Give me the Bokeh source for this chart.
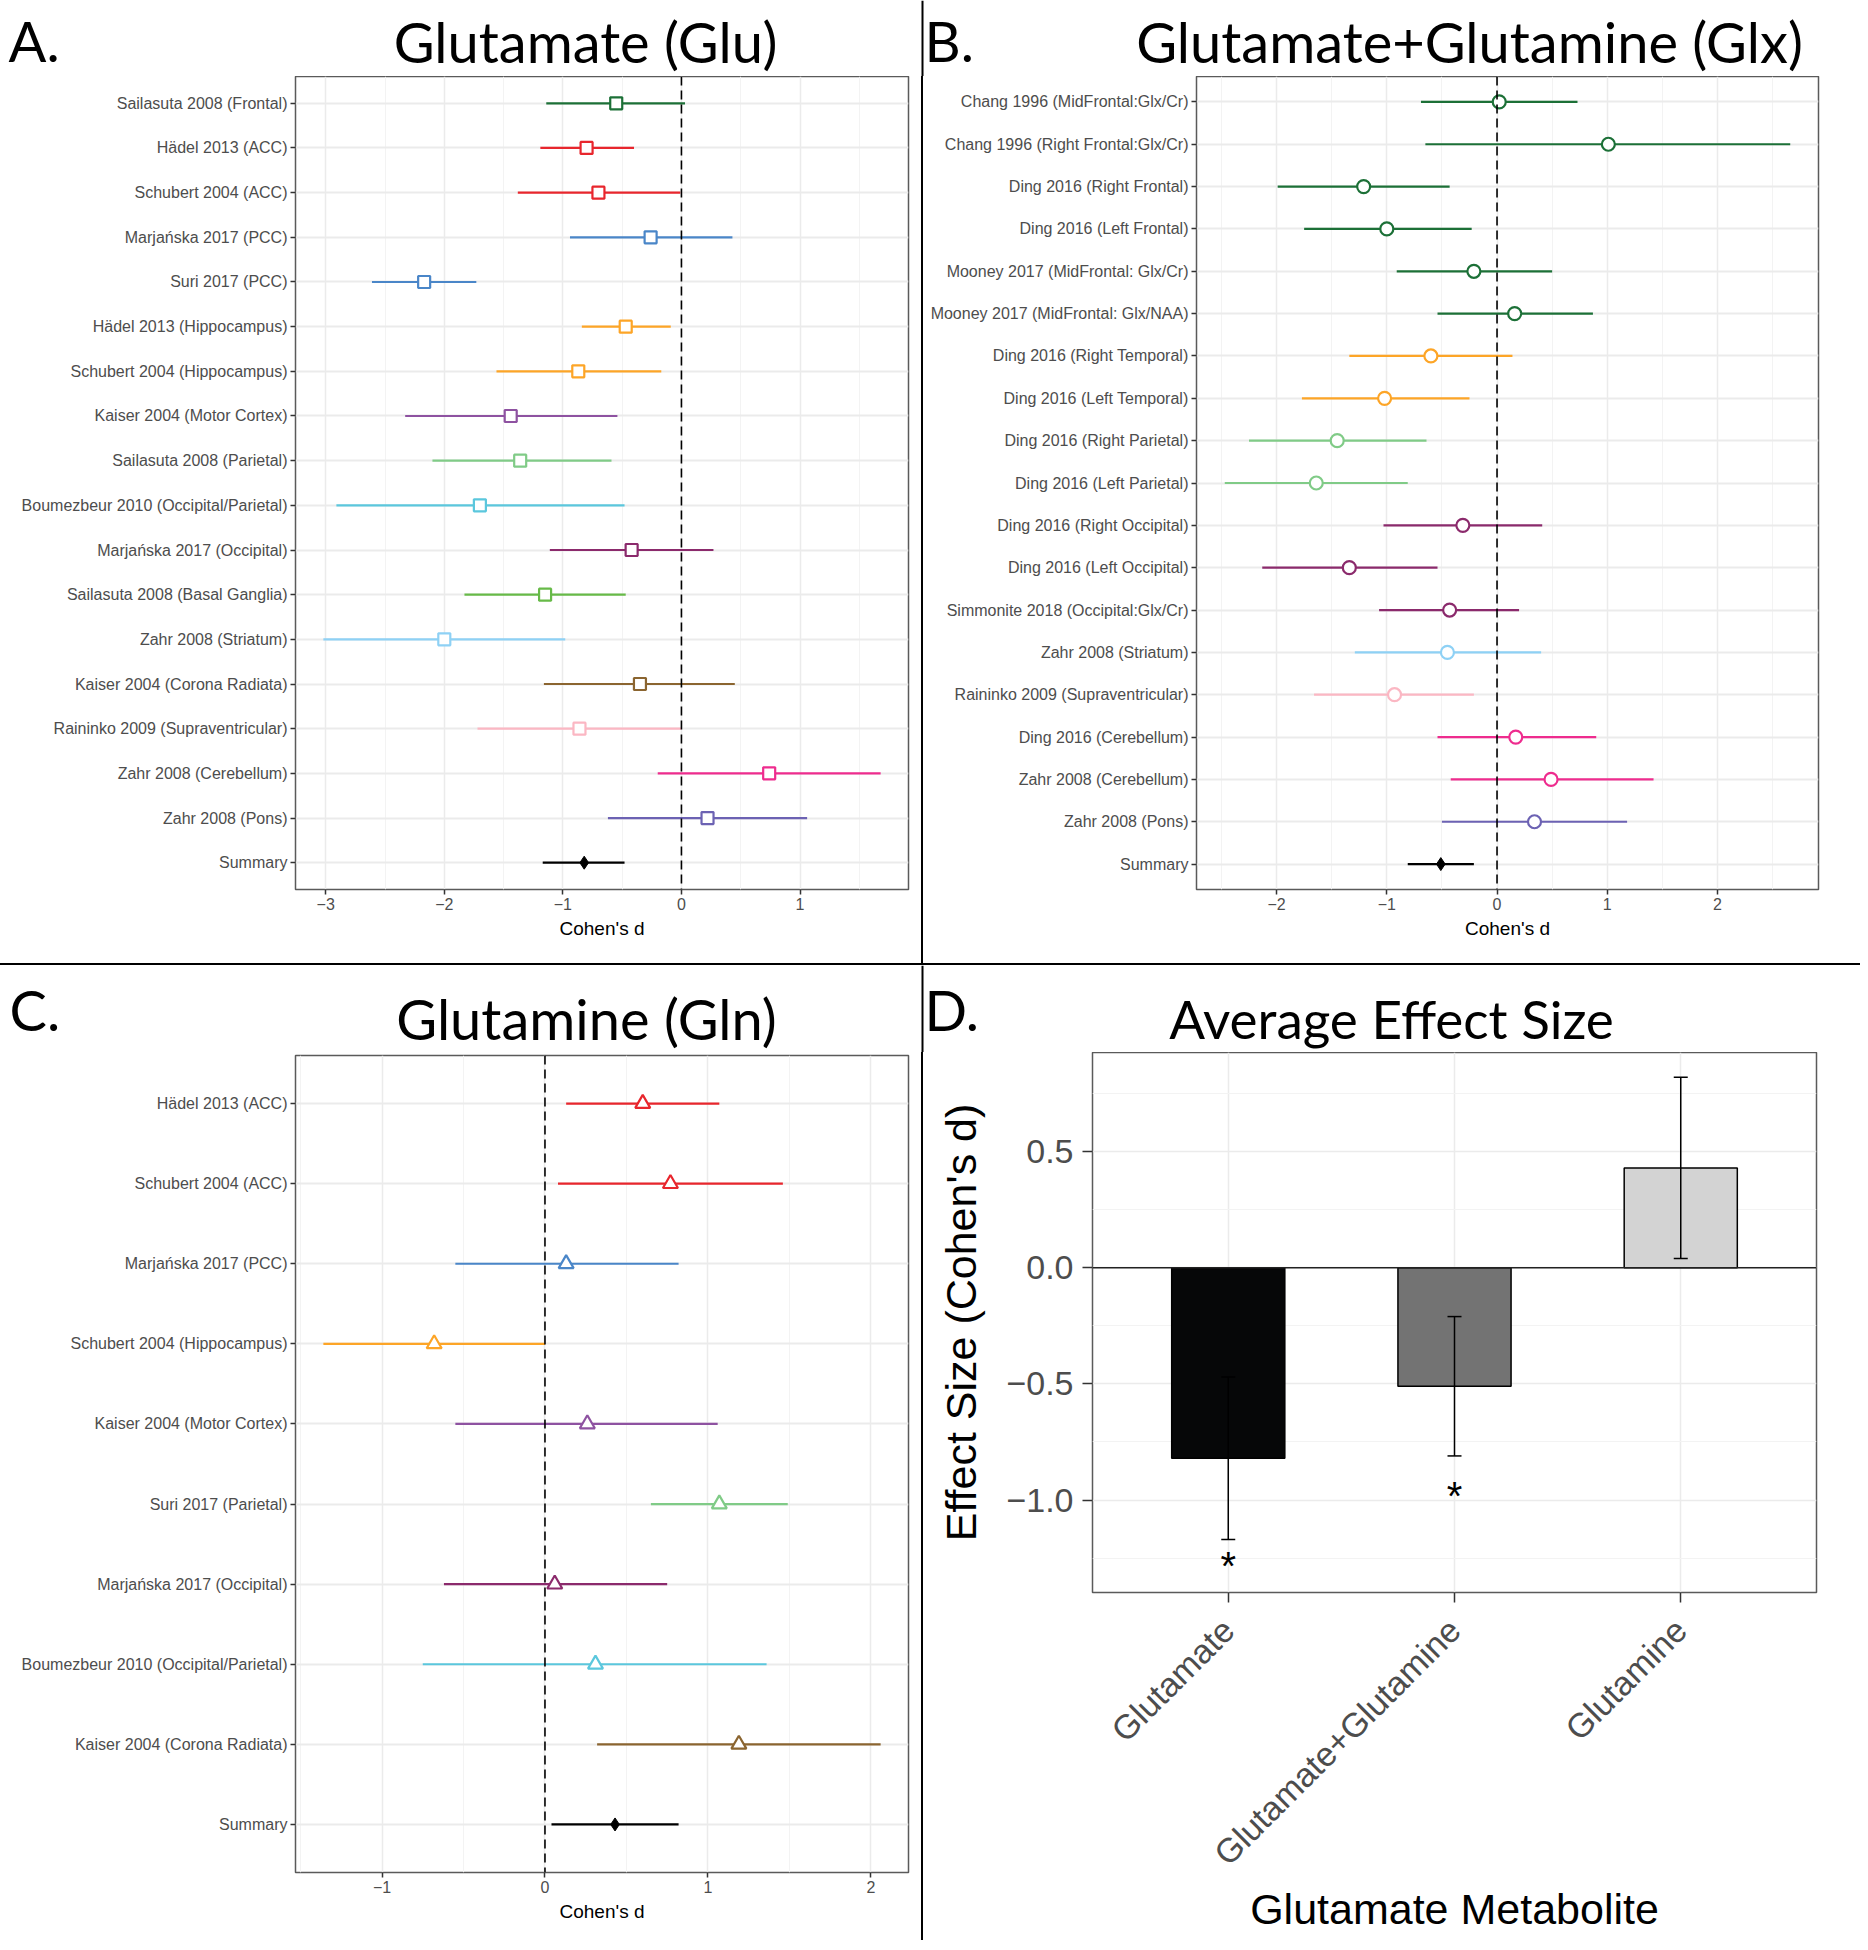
from bokeh.plotting import figure
from bokeh.models import (Range1d, FixedTicker, Span, Whisker, ColumnDataSource,
                          Div, TeeHead)
from bokeh.layouts import row, column
from bokeh.embed import file_html
from bokeh.resources import INLINE
from bokeh.core.properties import value

# ---------------- data ----------------
glu_studies = ["Sailasuta 2008 (Frontal)", "Hädel 2013 (ACC)", "Schubert 2004 (ACC)",
               "Marjańska 2017 (PCC)", "Suri 2017 (PCC)", "Hädel 2013 (Hippocampus)",
               "Schubert 2004 (Hippocampus)", "Kaiser 2004 (Motor Cortex)",
               "Sailasuta 2008 (Parietal)", "Boumezbeur 2010 (Occipital/Parietal)",
               "Marjańska 2017 (Occipital)", "Sailasuta 2008 (Basal Ganglia)",
               "Zahr 2008 (Striatum)", "Kaiser 2004 (Corona Radiata)",
               "Raininko 2009 (Supraventricular)", "Zahr 2008 (Cerebellum)",
               "Zahr 2008 (Pons)", "Summary"]
glu_region = ["Frontal", "ACC", "ACC", "PCC", "PCC", "Hippocampus", "Hippocampus",
              "Motor Cortex", "Parietal", "Occipital/Parietal", "Occipital", "Basal Ganglia",
              "Striatum", "Corona Radiata", "Supraventricular", "Cerebellum", "Pons", "Summary"]
glu_d = [-0.55, -0.80, -0.70, -0.26, -2.17, -0.47, -0.87, -1.44, -1.36, -1.70, -0.42,
         -1.15, -2.00, -0.35, -0.86, 0.74, 0.22, -0.82]
glu_lo = [-1.14, -1.19, -1.38, -0.94, -2.61, -0.84, -1.56, -2.33, -2.10, -2.91, -1.11,
          -1.83, -3.02, -1.16, -1.72, -0.20, -0.62, -1.17]
glu_hi = [0.03, -0.40, -0.01, 0.43, -1.73, -0.09, -0.17, -0.54, -0.59, -0.48, 0.27,
          -0.47, -0.98, 0.45, 0.00, 1.68, 1.06, -0.48]

glx_studies = ["Chang 1996 (MidFrontal:Glx/Cr)", "Chang 1996 (Right Frontal:Glx/Cr)",
               "Ding 2016 (Right Frontal)", "Ding 2016 (Left Frontal)",
               "Mooney 2017 (MidFrontal: Glx/Cr)", "Mooney 2017 (MidFrontal: Glx/NAA)",
               "Ding 2016 (Right Temporal)", "Ding 2016 (Left Temporal)",
               "Ding 2016 (Right Parietal)", "Ding 2016 (Left Parietal)",
               "Ding 2016 (Right Occipital)", "Ding 2016 (Left Occipital)",
               "Simmonite 2018 (Occipital:Glx/Cr)", "Zahr 2008 (Striatum)",
               "Raininko 2009 (Supraventricular)", "Ding 2016 (Cerebellum)",
               "Zahr 2008 (Cerebellum)", "Zahr 2008 (Pons)", "Summary"]
glx_region = ["Frontal", "Frontal", "Frontal", "Frontal", "Frontal", "Frontal",
              "Hippocampus", "Hippocampus", "Parietal", "Parietal", "Occipital",
              "Occipital", "Occipital", "Striatum", "Supraventricular", "Cerebellum",
              "Cerebellum", "Pons", "Summary"]
glx_d = [0.02, 1.01, -1.21, -1.00, -0.21, 0.16, -0.60, -1.02, -1.45, -1.64, -0.31,
         -1.34, -0.43, -0.45, -0.93, 0.17, 0.49, 0.34, -0.51]
glx_lo = [-0.69, -0.65, -1.99, -1.75, -0.91, -0.54, -1.34, -1.77, -2.25, -2.47, -1.03,
          -2.13, -1.07, -1.29, -1.66, -0.54, -0.42, -0.50, -0.81]
glx_hi = [0.73, 2.66, -0.43, -0.23, 0.50, 0.87, 0.14, -0.25, -0.64, -0.81, 0.41,
          -0.54, 0.20, 0.40, -0.21, 0.90, 1.42, 1.18, -0.21]

gln_studies = ["Hädel 2013 (ACC)", "Schubert 2004 (ACC)", "Marjańska 2017 (PCC)",
               "Schubert 2004 (Hippocampus)", "Kaiser 2004 (Motor Cortex)",
               "Suri 2017 (Parietal)", "Marjańska 2017 (Occipital)",
               "Boumezbeur 2010 (Occipital/Parietal)", "Kaiser 2004 (Corona Radiata)",
               "Summary"]
gln_region = ["ACC", "ACC", "PCC", "Hippocampus", "Motor Cortex", "Parietal", "Occipital",
              "Occipital/Parietal", "Corona Radiata", "Summary"]
gln_d = [0.60, 0.77, 0.13, -0.68, 0.26, 1.07, 0.06, 0.31, 1.19, 0.43]
gln_lo = [0.13, 0.08, -0.55, -1.36, -0.55, 0.65, -0.62, -0.75, 0.32, 0.04]
gln_hi = [1.07, 1.46, 0.82, 0.00, 1.06, 1.49, 0.75, 1.36, 2.06, 0.82]

metabolites = ["Glutamate", "Glutamate+Glutamine", "Glutamine"]
avg_d = [-0.82, -0.51, 0.43]
avg_lo = [-1.17, -0.81, 0.04]
avg_hi = [-0.47, -0.21, 0.82]
sig_index = [1, 2]
sig_y = [-1.25, -0.95]

glu_xticks = [-3, -2, -1, 0, 1]
glx_xticks = [-2, -1, 0, 1, 2]
gln_xticks = [-1, 0, 1, 2]
avg_yticks = [-1.0, -0.5, 0.0, 0.5]

panel_titles = ["Glutamate (Glu)", "Glutamate+Glutamine (Glx)", "Glutamine (Gln)",
                "Average Effect Size"]
panel_letters = ["A.", "B.", "C.", "D."]

# ---------------- styles ----------------
region_colors = {
    "Frontal": "#1c7037", "ACC": "#e8262d", "PCC": "#4a86c8", "Hippocampus": "#fda527",
    "Motor Cortex": "#8e52a1", "Parietal": "#80cb87", "Occipital/Parietal": "#5bc7dd",
    "Occipital": "#8b2a6c", "Basal Ganglia": "#67ba48", "Striatum": "#8ed1f5",
    "Corona Radiata": "#8b6530", "Supraventricular": "#fbb7c3", "Cerebellum": "#ee2c8e",
    "Pons": "#6c62b3", "Summary": "#000000",
}
bar_colors = ["#060708", "#737373", "#d3d3d3"]
TICK_FONT = "Liberation Sans"
TITLE_FONT = "Lato"

W1, W2 = 921, 937
WT = W1 + 2 + W2
HT1, HT2 = 76, 87           # header heights
HP1, HP2 = 887, 888         # plot heights


def minus(v, fmt):
    return fmt.format(v).replace("-", "\u2212")


def header(h, titles, tx, ty, tsizes, letters, lx, ly):
    hp = figure(width=WT, height=h, x_range=Range1d(0, WT), y_range=Range1d(0, h),
                x_axis_type=None, y_axis_type=None, output_backend="svg",
                toolbar_location=None, min_border=0, min_border_left=0,
                min_border_right=0, min_border_top=0, min_border_bottom=0)
    hp.outline_line_color = None
    hp.background_fill_color = "white"
    hp.border_fill_color = "white"
    hp.grid.visible = False
    for t, x, s in zip(titles, tx, tsizes):
        hp.text(x=[x], y=[ty], text=[t], text_font=value(TITLE_FONT),
                text_font_size=value(s), text_align="center",
                text_baseline="alphabetic", text_color="black")
    hp.text(x=lx, y=[ly] * len(lx), text=letters, text_font=value(TITLE_FONT),
            text_font_size="56px", text_align="left", text_baseline="alphabetic",
            text_color="black")
    hp.add_layout(Span(location=W1 + 1, dimension="height", line_color="black",
                       line_width=2))
    return hp


def forest(studies, d, lo, hi, regions, marker, msize, xticks, W, H, borders):
    n = len(studies)
    pos = list(range(n, 0, -1))
    span = max(hi) - min(lo)
    xr0, xr1 = min(lo) - 0.05 * span, max(hi) + 0.05 * span
    p = figure(width=W, height=H, x_range=Range1d(xr0, xr1),
               y_range=Range1d(0.4, n + 0.6),
               output_backend="svg", toolbar_location=None,
               min_border_left=borders[0], min_border_right=borders[1],
               min_border_top=borders[2], min_border_bottom=borders[3])
    p.background_fill_color = "white"
    p.border_fill_color = "white"
    p.outline_line_color = "#5a5a5a"
    p.outline_line_width = 1.5

    minor = [t + 0.5 for t in [xticks[0] - 1] + xticks if xr0 < t + 0.5 < xr1]
    p.xaxis.ticker = FixedTicker(ticks=xticks, minor_ticks=minor)
    p.xaxis.major_label_overrides = {t: minus(t, "{:d}") for t in xticks}
    p.yaxis.ticker = FixedTicker(ticks=pos)
    p.yaxis.major_label_overrides = {pp: s for pp, s in zip(pos, studies)}

    for ax in (p.xaxis[0], p.yaxis[0]):
        ax.axis_line_color = None
        ax.major_tick_line_color = "#333333"
        ax.major_tick_line_width = 1.5
        ax.major_tick_out = 5
        ax.major_tick_in = 0
        ax.minor_tick_line_color = None
        ax.major_label_text_font = TICK_FONT
        ax.major_label_text_font_size = "16px"
        ax.major_label_text_color = "#4d4d4d"
        ax.major_label_standoff = 3
    p.xaxis.axis_label = "Cohen's d"
    p.xaxis.axis_label_text_font = TICK_FONT
    p.xaxis.axis_label_text_font_size = "19px"
    p.xaxis.axis_label_text_font_style = "normal"
    p.xaxis.axis_label_text_color = "black"
    p.xaxis.axis_label_standoff = 5

    p.xgrid.grid_line_color = "#ebebeb"
    p.xgrid.grid_line_width = 1.5
    p.xgrid.minor_grid_line_color = "#f3f3f3"
    p.xgrid.minor_grid_line_width = 1
    p.ygrid.grid_line_color = "#ebebeb"
    p.ygrid.grid_line_width = 2

    cols = [region_colors[r] for r in regions]
    src = ColumnDataSource(dict(y=pos, d=d, lo=lo, hi=hi, color=cols))
    p.segment(x0="lo", y0="y", x1="hi", y1="y", line_color="color", line_width=2.2,
              source=src)
    p.add_layout(Span(location=0, dimension="height", line_color="black",
                      line_width=1.6, line_dash="9 5"))
    study_src = ColumnDataSource(dict(y=pos[:-1], d=d[:-1], color=cols[:-1]))
    p.scatter(x="d", y="y", marker=marker, size=msize, line_color="color",
              fill_color="white", line_width=2.2, source=study_src)
    p.scatter(x=d[-1:], y=pos[-1:], marker="diamond", size=13, color="black")
    return p


hTop = header(HT1, panel_titles[:2], [585, 1469], 35.5, ["56px", "56px"],
              panel_letters[:2], [8, 924], 36)
hBot = header(HT2, panel_titles[2:], [586, 1391], 34.5, ["56px", "53px"],
              panel_letters[2:], [9, 924], 43)

pA = forest(glu_studies, glu_d, glu_lo, glu_hi, glu_region, "square", 12, glu_xticks,
            W1, HP1, (295, 13, 0, 74))
pB = forest(glx_studies, glx_d, glx_lo, glx_hi, glx_region, "circle", 13, glx_xticks,
            W2, HP1, (273, 42, 0, 74))
pC = forest(gln_studies, gln_d, gln_lo, gln_hi, gln_region, "triangle", 15, gln_xticks,
            W1, HP2, (295, 13, 3, 68))

# ---------------- panel D ----------------
pD = figure(width=W2, height=HP2, x_range=Range1d(0.4, 3.6),
            y_range=Range1d(-1.398, 0.927),
            output_backend="svg", toolbar_location=None,
            min_border_left=169, min_border_right=44, min_border_top=0,
            min_border_bottom=348)
pD.background_fill_color = "white"
pD.border_fill_color = "white"
pD.outline_line_color = "#5a5a5a"
pD.outline_line_width = 1.5
xs = list(range(1, len(metabolites) + 1))
pD.xaxis.ticker = FixedTicker(ticks=xs)
pD.xaxis.major_label_overrides = {x: m for x, m in zip(xs, metabolites)}
pD.xaxis.major_label_orientation = 0.785398
pD.yaxis.ticker = FixedTicker(ticks=avg_yticks,
                              minor_ticks=[-1.25, -0.75, -0.25, 0.25, 0.75])
pD.yaxis.major_label_overrides = {t: minus(t, "{:.1f}") for t in avg_yticks}
for ax in (pD.xaxis[0], pD.yaxis[0]):
    ax.axis_line_color = None
    ax.major_tick_line_color = "#333333"
    ax.major_tick_line_width = 1.5
    ax.major_tick_out = 10
    ax.major_tick_in = 0
    ax.minor_tick_line_color = None
    ax.major_label_text_font = TICK_FONT
    ax.major_label_text_color = "#4d4d4d"
    ax.axis_label_text_font = TICK_FONT
    ax.axis_label_text_font_size = "43px"
    ax.axis_label_text_font_style = "normal"
    ax.axis_label_text_color = "black"
pD.yaxis.major_label_text_font_size = "34px"
pD.yaxis.major_label_standoff = 9
pD.xaxis.major_label_text_font_size = "34px"
pD.xaxis.major_label_standoff = 22
pD.xaxis.axis_label = "Glutamate Metabolite"
pD.yaxis.axis_label = "Effect Size (Cohen's d)"
pD.xaxis.axis_label_standoff = -4
pD.yaxis.axis_label_standoff = 18
pD.xgrid.grid_line_color = "#ebebeb"
pD.xgrid.grid_line_width = 1.5
pD.ygrid.grid_line_color = "#ebebeb"
pD.ygrid.grid_line_width = 1.5
pD.ygrid.minor_grid_line_color = "#f3f3f3"
pD.ygrid.minor_grid_line_width = 1

bsrc = ColumnDataSource(dict(x=xs, top=avg_d, lo=avg_lo, hi=avg_hi, color=bar_colors))
pD.vbar(x="x", top="top", bottom=0, width=0.5, fill_color="color", line_color="black",
        line_width=1.5, source=bsrc)
pD.add_layout(Span(location=0, dimension="width", line_color="#222222", line_width=1.5))
pD.add_layout(Whisker(source=bsrc, base="x", upper="hi", lower="lo", line_color="black",
                      line_width=1.5, level="overlay",
                      upper_head=TeeHead(size=14, line_width=1.5, line_color="black"),
                      lower_head=TeeHead(size=14, line_width=1.5, line_color="black")))
pD.text(x=sig_index, y=sig_y, text=["*"] * len(sig_index), text_font=value(TICK_FONT),
        text_font_size="40px", text_align="center", text_baseline="middle",
        y_offset=8, text_color="black")


# ---------------- layout ----------------
def bar(w, h):
    return Div(width=w, height=h, margin=(0, 0, 0, 0),
               styles={"background-color": "black"})


layout = column(hTop,
                row(column(pA), bar(2, HP1), column(pB)),
                bar(WT, 2),
                hBot,
                row(column(pC), bar(2, HP2), column(pD)))

with open("out.html", "w") as f:
    f.write(file_html(layout, INLINE))
